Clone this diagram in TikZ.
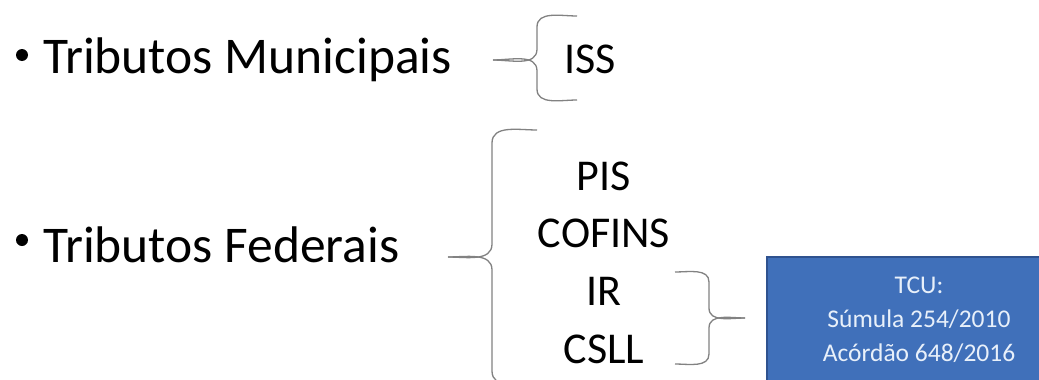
\documentclass[tikz,border=0pt]{standalone}
\usepackage{fontspec}
\setmainfont{Carlito}
\definecolor{bracegray}{RGB}{130,130,130}
\definecolor{boxfill}{RGB}{64,112,186}
\definecolor{boxline}{RGB}{47,82,143}
\definecolor{boxtext}{RGB}{232,240,250}
\begin{document}
\begin{tikzpicture}[x=1pt,y=-1pt,
  item/.style={anchor=base west, inner sep=0pt, font=\fontsize{51.5}{60}\selectfont},
  sub/.style={anchor=base, inner sep=0pt, font=\fontsize{44}{52}\selectfont},
  dot/.style={circle, fill=black, inner sep=0pt, minimum size=12pt},
  bracestroke/.style={draw=bracegray, line width=1.3pt},
  tcubox/.style={draw=boxline, line width=1.5pt, fill=boxfill, text=boxtext, align=center,
    minimum width=304pt, minimum height=126pt, inner sep=0pt, font=\fontsize{25.5}{34}\selectfont}]
\useasboundingbox (0,0) rectangle (1039,380);
\fill[white] (0,0) rectangle (1039,380);
\clip (0,0) rectangle (1039,380);

% items
\node[dot] (b1) at (22,55) {};
\node[item] (tm) at (43,73) {Tributos Municipais};
\node[dot] (b2) at (22,240) {};
\node[item] (tf) at (43,262) {Tributos Federais};

% sub items
\node[sub] (iss) at (590,73) {ISS};
\node[sub] (pis) at (604,190) {PIS};
\node[sub] (cofins) at (604,247) {COFINS};
\node[sub] (ir) at (604,305) {IR};
\node[sub] (csll) at (604,363) {CSLL};

% TCU box
\node[tcubox] (tcu) at (919,320) {TCU:\\Súmula 254/2010\\Acórdão 648/2016};

% brace tips
\coordinate (t1) at (493,60);
\coordinate (t2) at (448,257);
\coordinate (t3) at (745,318);

% brace 1 (ISS)
\draw[bracestroke] (577,16) to[out=180,in=90] (537,27) -- (537,49) to[out=-90,in=0] (t1);
\draw[bracestroke] (t1) to[out=0,in=90] (537,71) -- (537,89) to[out=-90,in=180] (577,100);

% brace 2 (federais)
\draw[bracestroke] (537,130) to[out=180,in=90] (492,143) -- (492,244) to[out=-90,in=0] (t2);
\draw[bracestroke] (t2) to[out=0,in=90] (492,270) -- (492,371) to[out=-90,in=180] (537,384);

% brace 3 (IR, CSLL -> TCU)
\draw[bracestroke] (675,272) to[out=0,in=90] (709,282) -- (709,308) to[out=-90,in=180] (t3);
\draw[bracestroke] (t3) to[out=180,in=90] (709,328) -- (709,354) to[out=-90,in=0] (675,364);
\end{tikzpicture}
\end{document}
